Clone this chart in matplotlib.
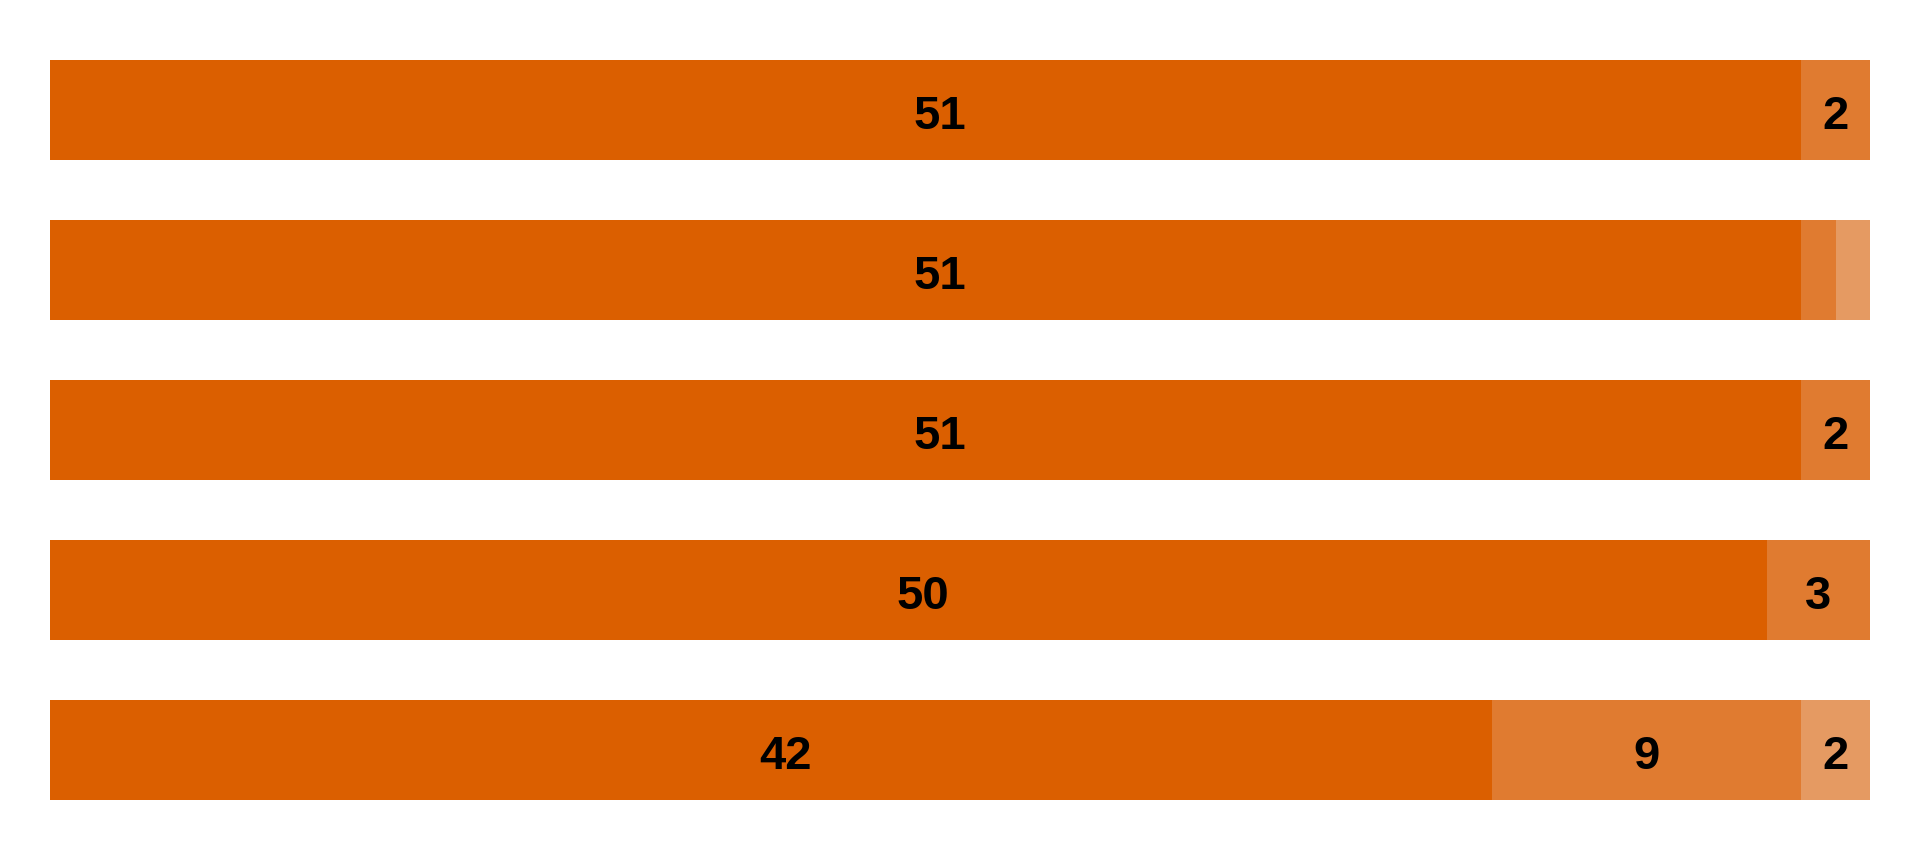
import numpy as np
from matplotlib import pyplot as plt

# stacked counts per row (top to bottom)
first = [51, 51, 51, 50, 42]
second = [2, 1, 2, 3, 9]
third = [0, 1, 0, 0, 2]

colors = ['#DB5F00', '#E07B30', '#E59A62']
minLabel = 2

fig = plt.figure(figsize=(19.2, 8.6), dpi=100)
ax = fig.add_axes([50 / 1920.0, 0, 1820 / 1920.0, 1])

rows = np.arange(len(first))
left = np.zeros(len(first))
for k, (series, color) in enumerate(zip((first, second, third), colors)):
    vals = np.array(series, dtype=float)
    ax.barh(rows, vals, height=0.625, left=left, color=color, linewidth=0)
    # first segment labels sit a bit right of centre in the original
    dx = 10 if k == 0 else 0
    for r, v, l in zip(rows, vals, left):
        if v >= minLabel:
            ax.annotate(str(int(v)), (l + v / 2.0, r), xytext=(dx, -13.5),
                        textcoords='offset points', ha='center', va='baseline',
                        fontsize=34, fontweight='bold', fontfamily='Liberation Sans',
                        color='black')
    left += vals

total = max(a + b + c for a, b, c in zip(first, second, third))
ax.set_xlim(0, total)
ax.set_ylim(4.6875, -0.6875)
ax.axis('off')

plt.savefig("out.png", dpi=100)
